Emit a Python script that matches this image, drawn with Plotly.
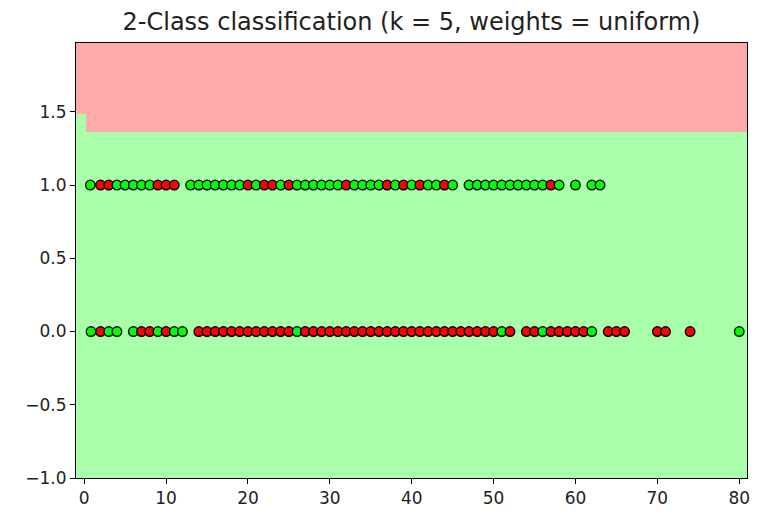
import plotly.graph_objects as go

# points on the y = 1 row (x value, class: 1 = green, 0 = red)
row1_x = [0.75, 2, 3, 4, 5, 6, 7, 8, 9, 10, 11,
          13, 14, 15, 16, 17, 18, 19, 20, 21, 22, 23, 24, 25, 26, 27, 28, 29,
          30, 31, 32, 33, 34, 35, 36, 37, 38, 39, 40, 41, 42, 43, 44, 45,
          47, 48, 49, 50, 51, 52, 53, 54, 55, 56, 57, 58, 60, 62, 63]
row1_cls = [1, 0, 0, 1, 1, 1, 1, 1, 0, 0, 0,
            1, 1, 1, 1, 1, 1, 1, 0, 1, 0, 0, 1, 0, 1, 1, 1, 1,
            1, 1, 0, 1, 1, 1, 1, 0, 1, 0, 1, 0, 1, 1, 0, 1,
            1, 1, 1, 1, 1, 1, 1, 1, 1, 1, 0, 1, 1, 1, 1]

# points on the y = 0 row
row0_x = [0.83, 2, 3, 4, 6, 7, 8, 9, 10, 11, 12,
          14, 15, 16, 17, 18, 19, 20, 21, 22, 23, 24, 25, 26, 27, 28, 29,
          30, 31, 32, 33, 34, 35, 36, 37, 38, 39, 40, 41, 42, 43, 44, 45,
          46, 47, 48, 49, 50, 51, 52,
          54, 55, 56, 57, 58, 59, 60, 61, 62, 64, 65, 66, 70, 71, 74, 80]
row0_cls = [1, 0, 1, 1, 1, 0, 0, 1, 0, 1, 1,
            0, 0, 0, 0, 0, 0, 0, 0, 0, 0, 0, 0, 1, 0, 0, 0,
            0, 0, 0, 0, 0, 0, 0, 0, 0, 0, 0, 0, 0, 0, 0, 0,
            0, 0, 0, 0, 0, 1, 0,
            0, 0, 1, 0, 0, 0, 0, 0, 1, 0, 0, 0, 0, 0, 0, 1]

# decision regions (cell edges and predicted class)
region_x = [-1.0, 0.2, 80.95]
region_y = [-1.0, 1.363, 1.484, 1.97]
region_cls = [[1, 1],
              [1, 0],
              [0, 0]]

x_ticks = [0, 10, 20, 30, 40, 50, 60, 70, 80]
y_ticks = [-1.0, -0.5, 0.0, 0.5, 1.0, 1.5]

bold = {0: '#FF0000', 1: '#00FF00'}

fig = go.Figure()
fig.add_trace(go.Heatmap(
    x=region_x, y=region_y, z=region_cls,
    zmin=0, zmax=1, showscale=False, hoverinfo='skip',
    colorscale=[[0, '#FFAAAA'], [0.5, '#FFAAAA'], [0.5, '#AAFFAA'], [1, '#AAFFAA']]))

for xs, cls, yv in [(row1_x, row1_cls, 1), (row0_x, row0_cls, 0)]:
    fig.add_trace(go.Scatter(
        x=xs, y=[yv] * len(xs), mode='markers',
        marker=dict(size=9.5, color=[bold[c] for c in cls],
                    line=dict(color='black', width=1.4)),
        showlegend=False))

axis_style = dict(showgrid=False, zeroline=False, showline=True, mirror=True,
                  linecolor='black', linewidth=1, ticks='outside', ticklen=5,
                  tickcolor='black', tickfont=dict(size=17, color='#222'))

# the page puts the plot 8px in from the top-left corner
fig.update_layout(
    width=780, height=522,
    margin=dict(l=68, r=41, t=35, b=52),
    paper_bgcolor='white', plot_bgcolor='white',
    font=dict(family='DejaVu Sans', color='#222'),
    title=dict(text='2-Class classification (k = 5, weights = uniform)',
               x=0.5, xref='paper', y=1 - 14 / 522, yref='container',
               yanchor='middle', font=dict(size=24, color='#222')),
    xaxis=dict(range=[region_x[0], region_x[-1]], tickvals=x_ticks, **axis_style),
    yaxis=dict(range=[region_y[0], region_y[-1]], tickvals=y_ticks,
               tickformat='.1f', **axis_style),
)

fig.write_html("out.html")
